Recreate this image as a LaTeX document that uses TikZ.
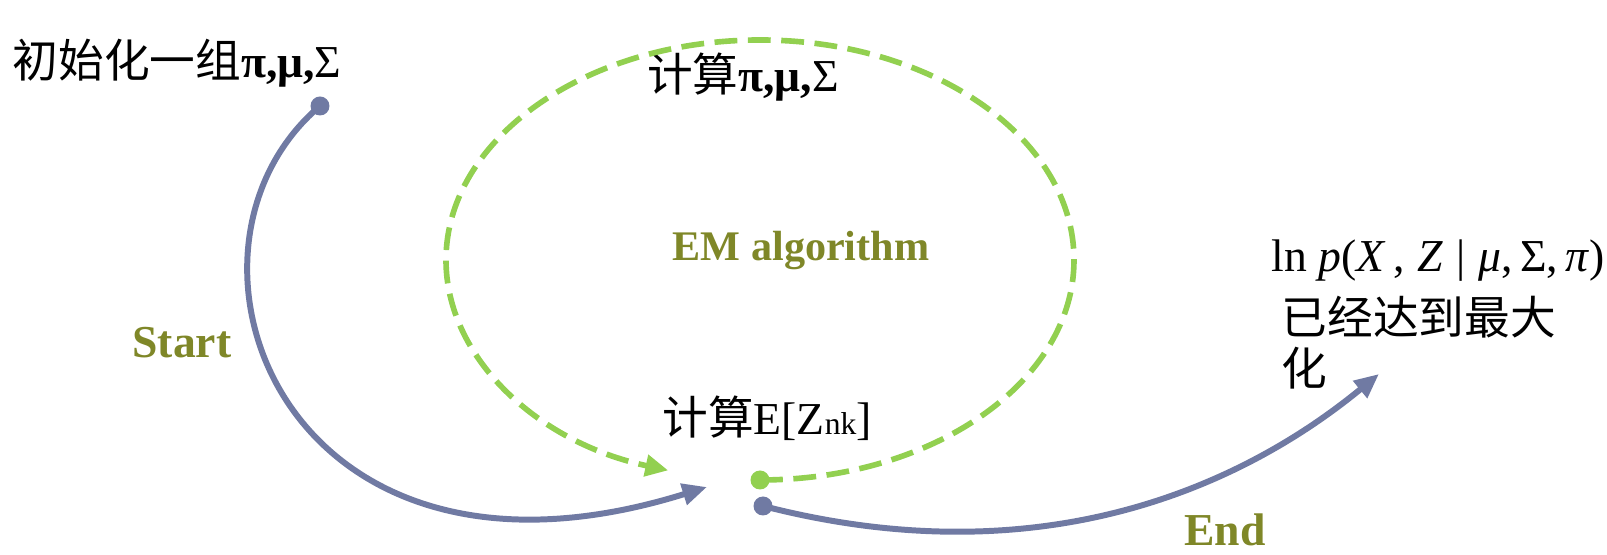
\documentclass[tikz,border=0pt]{standalone}
\usepackage{fontspec}
\setmainfont{Liberation Serif}
\newfontfamily\cjk{Noto Sans CJK SC}
\usetikzlibrary{arrows.meta}
\definecolor{flowblue}{RGB}{112,122,163}
\definecolor{emgreen}{RGB}{146,208,80}
\definecolor{tagolive}{RGB}{127,135,40}

\begin{document}
\begin{tikzpicture}[every node/.style={font=\fontsize{13}{14.5}\selectfont, inner sep=0pt},
	tag/.style={text=tagolive, font=\fontsize{13}{15}\selectfont\bfseries},
	dot/.style={circle, minimum size=5.4pt, inner sep=0pt},
	flow/.style={flowblue, line width=1.7pt, -{Triangle[length=7pt,width=6pt]}},
	emloop/.style={emgreen, line width=1.6pt, dash pattern=on 6.5pt off 3pt, -{Triangle[length=6.5pt,width=6pt]}}]
	\useasboundingbox (0,0) rectangle (16.07,5.55);
	% texts
	\node[anchor=west] (init) at (0.12,4.92) {{\cjk 初始化一组}\textbf{π,μ,}Σ};
	\node (mstep) at (7.43,4.78) {{\cjk 计算}\textbf{π,μ,}Σ};
	\node[tag, font=\fontsize{12}{14}\selectfont\bfseries] (em) at (8.01,3.04) {EM algorithm};
	\node[tag] (start) at (1.82,2.12) {Start};
	\node (estep) at (7.67,1.37) {{\cjk 计算}E[Z{\fontsize{9}{10}\selectfont nk}]};
	\node[tag] (end) at (12.25,0.25) {End};
	\node[anchor=west] (lnp) at (12.71,2.94) {ln \textit{p}(\textit{X}\,,\;\textit{Z}\;|\;\textit{μ},\,Σ,\,\textit{π})};
	\node[anchor=north west, align=left] (maxed) at (12.81,2.60) {{\cjk 已经达到最大}\\{\cjk 化}};
	% dots and ends
	\node[dot, fill=flowblue] (s0) at (3.20,4.49) {};
	\node[dot, fill=emgreen] (g0) at (7.60,0.75) {};
	\node[dot, fill=flowblue] (e0) at (7.63,0.49) {};
	\coordinate (a1) at (7.07,0.68);
	\coordinate (a2) at (13.79,1.81);
	% connectors
	\draw[flow] (s0.center) .. controls (1.50,3.05) and (2.80,-0.65) .. (a1);
	\draw[emloop] (g0.center) arc[start angle=-90, end angle=253, x radius=3.14, y radius=2.2];
	\draw[flow] (e0.center) .. controls (10.50,-0.25) and (12.50,0.75) .. (a2);
\end{tikzpicture}
\end{document}
